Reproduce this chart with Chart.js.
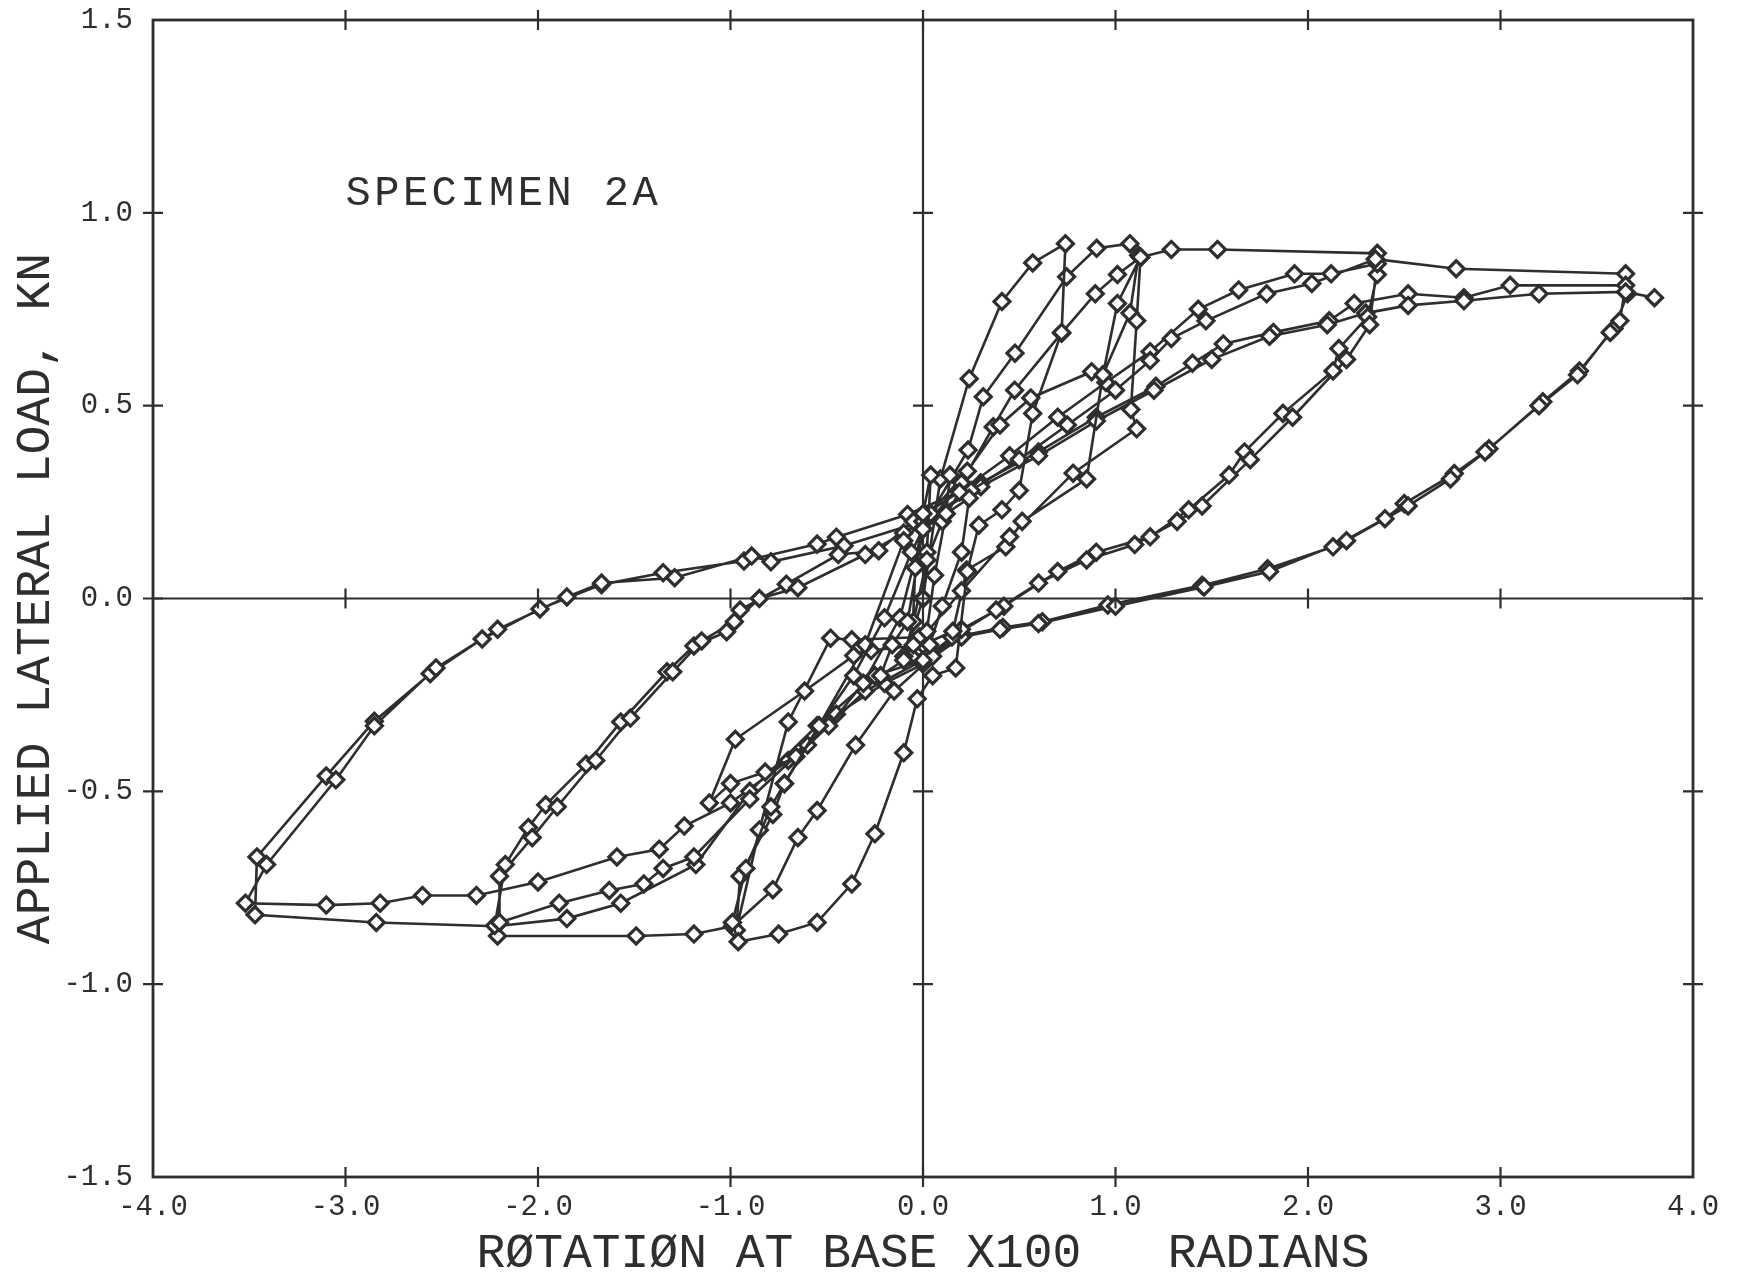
<!DOCTYPE html>
<html>
<head>
<meta charset="utf-8">
<title>Specimen 2A</title>
<script src="https://cdn.jsdelivr.net/npm/chart.js@4.4.0/dist/chart.umd.min.js"></script>
<style>
  html, body { margin: 0; padding: 0; background: #fff; }
  #wrap { width: 1739px; height: 1280px; }
</style>
</head>
<body>
<div id="wrap"><canvas id="chart" width="1739" height="1280"></canvas></div>
<script>
// ---- axis ranges / tick labels ----
const xTicks = [-4, -3, -2, -1, 0, 1, 2, 3, 4];
const yTicks = [-1.5, -1.0, -0.5, 0.0, 0.5, 1.0, 1.5];

// ---- load history (rotation x100 rad, load kN) ----
// early small cycles
const firstX = [0.00, 0.02, 0.04, 0.00, -0.04, -0.06, -0.02, 0.02, 0.06, 0.12, 0.14, 0.19, 0.10, 0.02, -0.05, -0.10, -0.05, 0.035, 0.10, 0.20, 0.24, 0.12, 0.00, -0.08, -0.16, -0.22, -0.10, 0.00];
const firstY = [0.00, 0.12, 0.32, 0.22, 0.08, -0.15, -0.10, -0.085, 0.06, 0.22, 0.32, 0.276, 0.20, 0.10, -0.06, -0.15, -0.12, -0.12, -0.02, 0.12, 0.26, 0.22, 0.18, -0.06, -0.12, -0.20, -0.16, 0.00];

// cycle to +0.74 / -0.97
const cycle1X = [0.00, 0.09, 0.24, 0.41, 0.57, 0.74, 0.72, 0.57, 0.50, 0.41, 0.29, 0.23, 0.17, 0.05, -0.03, -0.10, -0.25, -0.37, -0.55, -0.75, -0.96, -0.99, -0.92, -0.79, -0.72, -0.54, -0.36, -0.20, -0.06, 0.04];
const cycle1Y = [0.00, 0.31, 0.57, 0.77, 0.87, 0.92, 0.69, 0.48, 0.28, 0.23, 0.19, 0.07, -0.18, -0.20, -0.26, -0.40, -0.61, -0.74, -0.84, -0.87, -0.89, -0.84, -0.70, -0.54, -0.48, -0.33, -0.20, -0.05, 0.12, 0.22];

// cycles to +1.1 / -1.1
const cycle2X = [0.04, 0.234, 0.313, 0.478, 0.746, 0.902, 1.075, 1.12, 1.075, 0.935, 0.85, 0.515, 0.43, 0.227, 0.155, 0.00, -0.27, -0.36, -0.615, -0.975, -1.11, -1.00, -0.82, -0.66, -0.49, -0.31, -0.12, 0.00,
                 0.20, 0.365, 0.476, 0.72, 0.895, 1.01, 1.13, 1.11, 1.08, 1.11, 0.78, 0.45, 0.20, 0.00, -0.37, -0.48, -0.70, -0.85, -0.97, -0.95, -0.78, -0.72, -0.54, -0.30, -0.10, 0.00,
                 0.23, 0.40, 0.56, 0.876, 0.935, 1.01, 1.13];
const cycle2Y = [0.22, 0.385, 0.523, 0.636, 0.834, 0.908, 0.92, 0.89, 0.74, 0.58, 0.31, 0.20, 0.134, 0.074, -0.085, -0.12, -0.135, -0.148, -0.24, -0.365, -0.53, -0.48, -0.45, -0.41, -0.33, -0.22, -0.05, 0.18,
                 0.30, 0.445, 0.54, 0.688, 0.79, 0.84, 0.885, 0.72, 0.49, 0.44, 0.325, 0.16, 0.02, -0.10, -0.107, -0.103, -0.32, -0.60, -0.86, -0.72, -0.56, -0.48, -0.33, -0.12, 0.15, 0.20,
                 0.33, 0.45, 0.52, 0.588, 0.58, 0.765, 0.885];

// cycles to +2.35 / -2.2
const cycle3X = [1.13, 1.29, 1.53, 2.36, 2.36, 2.31, 2.16, 2.13, 1.87, 1.67, 1.59, 1.38, 1.18, 0.90, 0.70, 0.42, 0.20, 0.05,
                 -0.15, -0.35, -0.55, -0.65, -0.78, -0.99, -1.19, -1.49, -2.21,
                 -2.225, -2.17, -2.05, -1.96, -1.75, -1.57, -1.33, -1.19, -1.02, -0.95, -0.71, -0.44, -0.23, -0.05,
                 0.20, 0.45, 0.70, 0.95, 1.18, 1.43, 1.64, 1.93, 2.12, 2.36,
                 2.32, 2.20, 1.92, 1.70, 1.45, 1.32, 1.10, 0.85, 0.60, 0.38, 0.15, 0.00,
                 -0.30, -0.60, -0.90, -1.19, -1.35, -1.45, -1.63, -1.89, -2.20,
                 -2.20, -2.03, -1.90, -1.70, -1.52, -1.30, -1.15, -0.98, -0.85, -0.65, -0.30, -0.10, 0.00,
                 0.25, 0.50, 0.75, 1.00, 1.18, 1.29, 1.47, 1.785, 2.02, 2.35];
const cycle3Y = [0.885, 0.905, 0.905, 0.895, 0.84, 0.73, 0.648, 0.59, 0.48, 0.38, 0.32, 0.23, 0.16, 0.12, 0.07, -0.02, -0.08, -0.15,
                 -0.24, -0.38, -0.55, -0.62, -0.755, -0.85, -0.87, -0.875, -0.875,
                 -0.848, -0.69, -0.594, -0.535, -0.43, -0.32, -0.19, -0.123, -0.086, -0.03, 0.037, 0.114, 0.124, 0.20,
                 0.28, 0.37, 0.47, 0.56, 0.64, 0.75, 0.80, 0.842, 0.842, 0.868,
                 0.71, 0.62, 0.47, 0.36, 0.24, 0.20, 0.14, 0.10, 0.04, -0.03, -0.10, -0.16,
                 -0.24, -0.38, -0.52, -0.67, -0.70, -0.74, -0.757, -0.79, -0.84,
                 -0.72, -0.62, -0.54, -0.42, -0.31, -0.19, -0.11, -0.06, 0.00, 0.028, 0.114, 0.17, 0.20,
                 0.28, 0.36, 0.45, 0.54, 0.617, 0.674, 0.72, 0.79, 0.817, 0.88];

// cycles to +3.65 / -3.5
const cycle4X = [2.35, 2.77, 3.65, 3.66, 3.59, 3.41, 3.22, 2.94, 2.76, 2.50, 2.40, 2.13, 1.79, 1.45, 0.96, 0.62, 0.415, 0.21, 0.00,
                 -0.25, -0.55, -0.90, -1.18, -1.57, -1.85, -2.22, -2.84, -3.47,
                 -3.46, -3.10, -2.85, -2.56, -2.29, -1.99, -1.67, -1.35, -0.93, -0.55, -0.45, -0.08,
                 0.30, 0.60, 0.90, 1.21, 1.40, 1.56, 1.82, 2.11, 2.24, 2.52, 2.81, 3.05, 3.65,
                 3.62, 3.57, 3.40, 3.20, 2.92, 2.74, 2.52, 2.20, 1.80, 1.46, 1.00, 0.60, 0.40, 0.20, 0.00,
                 -0.20, -0.45, -0.70, -1.00, -1.24, -1.37, -1.59, -2.00, -2.32, -2.60, -2.82, -3.10, -3.52,
                 -3.41, -3.05, -2.85, -2.53, -2.21, -1.85, -1.67, -1.29, -0.89, -0.79, -0.41, 0.00,
                 0.30, 0.60, 0.90, 1.20, 1.50, 1.80, 2.10, 2.30, 2.52, 2.81, 3.20, 3.65, 3.80];
const cycle4Y = [0.88, 0.855, 0.842, 0.79, 0.70, 0.59, 0.51, 0.388, 0.324, 0.246, 0.207, 0.134, 0.077, 0.034, -0.017, -0.06, -0.075, -0.095, -0.16,
                 -0.20, -0.33, -0.50, -0.69, -0.79, -0.83, -0.85, -0.84, -0.82,
                 -0.67, -0.46, -0.318, -0.195, -0.105, -0.027, 0.036, 0.067, 0.097, 0.141, 0.159, 0.218,
                 0.30, 0.38, 0.47, 0.55, 0.61, 0.66, 0.69, 0.72, 0.765, 0.79, 0.78, 0.812, 0.812,
                 0.72, 0.69, 0.58, 0.50, 0.38, 0.31, 0.24, 0.15, 0.07, 0.03, -0.02, -0.065, -0.08, -0.10, -0.17,
                 -0.22, -0.30, -0.42, -0.53, -0.59, -0.65, -0.67, -0.735, -0.77, -0.77, -0.79, -0.795, -0.79,
                 -0.69, -0.47, -0.33, -0.18, -0.08, 0.004, 0.04, 0.054, 0.11, 0.095, 0.137, 0.20,
                 0.29, 0.37, 0.46, 0.54, 0.62, 0.68, 0.71, 0.74, 0.76, 0.772, 0.79, 0.795, 0.78];

const ink = '#2e2e2e';
const monoFont = "'Liberation Mono', 'DejaVu Sans Mono', monospace";

function toPoints(xs, ys) {
    return xs.map((v, i) => ({ x: v, y: ys[i] }));
}

const series = [
    [firstX, firstY],
    [cycle1X, cycle1Y],
    [cycle2X, cycle2Y],
    [cycle3X, cycle3Y],
    [cycle4X, cycle4Y]
];

const datasets = series.map(([xs, ys]) => ({
    data: toPoints(xs, ys),
    showLine: true,
    borderColor: ink,
    borderWidth: 2.6,
    tension: 0,
    pointStyle: 'rectRot',
    pointRadius: 8,
    pointBorderWidth: 3.2,
    pointBackgroundColor: '#ffffff',
    pointBorderColor: ink
}));

// frame, crossed ticks, zero axes and the specimen label
const framePlugin = {
    id: 'frame',
    beforeDatasetsDraw(chart) {
        const { ctx, chartArea: a, scales: { x, y } } = chart;
        const x0 = x.getPixelForValue(0);
        const y0 = y.getPixelForValue(0);
        ctx.save();
        ctx.strokeStyle = ink;
        ctx.lineWidth = 2.2;
        ctx.beginPath();
        ctx.moveTo(x0, a.top); ctx.lineTo(x0, a.bottom);
        ctx.moveTo(a.left, y0); ctx.lineTo(a.right, y0);
        ctx.stroke();
        ctx.restore();
    },
    afterDraw(chart) {
        const { ctx, chartArea: a, scales: { x, y } } = chart;
        const x0 = x.getPixelForValue(0);
        const y0 = y.getPixelForValue(0);
        const t = 10;
        ctx.save();
        ctx.strokeStyle = ink;
        ctx.lineWidth = 2.8;
        ctx.strokeRect(a.left, a.top, a.right - a.left, a.bottom - a.top);

        ctx.lineWidth = 2.2;
        ctx.beginPath();
        xTicks.forEach(v => {
            if (v === xTicks[0] || v === xTicks[xTicks.length - 1]) return;
            const px = x.getPixelForValue(v);
            [a.top, a.bottom, y0].forEach(py => {
                ctx.moveTo(px, py - t); ctx.lineTo(px, py + t);
            });
        });
        yTicks.forEach(v => {
            if (v === yTicks[0] || v === yTicks[yTicks.length - 1]) return;
            const py = y.getPixelForValue(v);
            [a.left, a.right, x0].forEach(px => {
                ctx.moveTo(px - t, py); ctx.lineTo(px + t, py);
            });
        });
        ctx.stroke();

        // label inside the plot
        ctx.fillStyle = ink;
        ctx.font = '42px ' + monoFont;
        ctx.letterSpacing = '3.5px';
        ctx.textAlign = 'left';
        ctx.textBaseline = 'middle';
        ctx.fillText('SPECIMEN 2A', x.getPixelForValue(-3.0), y.getPixelForValue(1.05));
        ctx.restore();
    }
};

new Chart(document.getElementById('chart'), {
    type: 'scatter',
    data: { datasets },
    options: {
        responsive: false,
        animation: false,
        events: [],
        layout: { padding: { left: 0, top: 20, right: 46, bottom: 0 } },
        plugins: { legend: { display: false }, tooltip: { enabled: false } },
        scales: {
            x: {
                type: 'linear',
                min: -4, max: 4,
                afterFit: s => { s.height = 103; s.paddingLeft = 0; s.paddingRight = 0; },
                afterBuildTicks: s => { s.ticks = xTicks.map(v => ({ value: v })); },
                grid: { display: false, drawTicks: false },
                border: { display: false },
                ticks: {
                    padding: 13,
                    color: ink,
                    font: { family: monoFont, size: 29 },
                    callback: v => v.toFixed(1)
                },
                title: {
                    display: true,
                    text: 'RØTATIØN AT BASE X100   RADIANS',
                    color: ink,
                    font: { family: monoFont, size: 48, lineHeight: 1 },
                    padding: { top: 0, bottom: 2 }
                }
            },
            y: {
                type: 'linear',
                min: -1.5, max: 1.5,
                afterFit: s => { s.width = 153; s.paddingTop = 0; s.paddingBottom = 0; },
                afterBuildTicks: s => { s.ticks = yTicks.map(v => ({ value: v })); },
                grid: { display: false, drawTicks: false },
                border: { display: false },
                ticks: {
                    padding: 20,
                    color: ink,
                    font: { family: monoFont, size: 29 },
                    callback: v => v.toFixed(1)
                },
                title: {
                    display: true,
                    text: 'APPLIED LATERAL LOAD, KN',
                    color: ink,
                    font: { family: monoFont, size: 48, lineHeight: 1 },
                    padding: { top: 12, bottom: 0 }
                }
            }
        }
    },
    plugins: [framePlugin]
});
</script>
</body>
</html>
